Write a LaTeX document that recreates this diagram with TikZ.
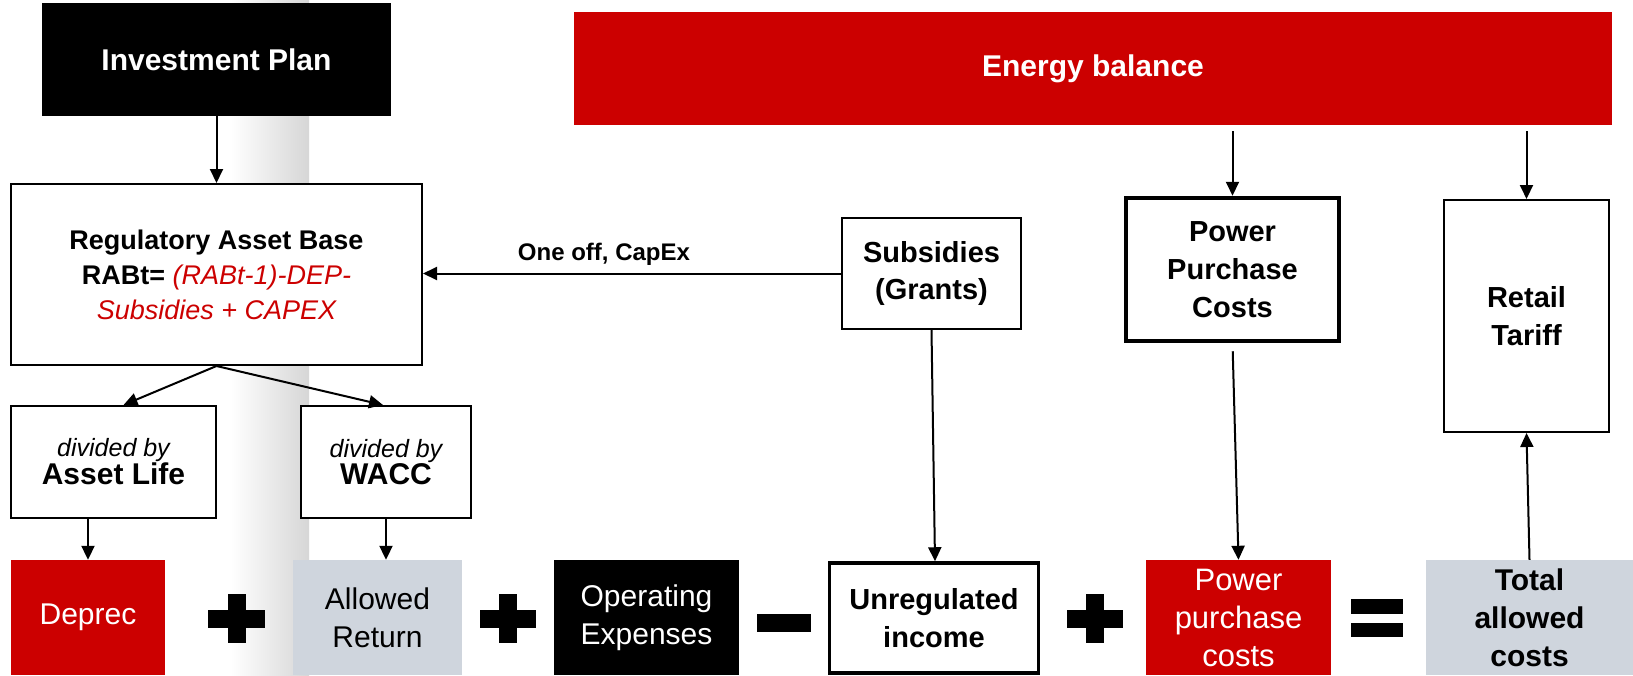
\documentclass[tikz,border=0pt]{standalone}
\usepackage{fontspec}
\setmainfont{Liberation Sans}
\usetikzlibrary{arrows.meta}
\definecolor{myred}{RGB}{204,0,0}
\definecolor{mygray}{RGB}{207,213,221}
\definecolor{bandgray}{RGB}{214,214,214}
\newcommand\myfs[2]{\fontsize{#1}{#2}\selectfont}
\begin{document}
\begin{tikzpicture}[x=1pt,y=-1pt,
  box/.style={draw=black, line width=2pt, fill=white, align=center, inner sep=0pt},
  blackbox/.style={fill=black, text=white, align=center, inner sep=0pt},
  redbox/.style={fill=myred, text=white, align=center, inner sep=0pt},
  graybox/.style={fill=mygray, text=black, align=center, inner sep=0pt},
  conn/.style={line width=2pt, -{Triangle[length=14pt,width=13pt]}},
  opbar/.style={fill=black, draw=none}]
\useasboundingbox (0,0) rectangle (1633,675);
\fill[white] (0,0) rectangle (1633,675);
% background band
\shade[left color=white, right color=bandgray] (231,0) rectangle (309,675);

% top row
\node[blackbox, minimum width=349pt, minimum height=113pt, font=\myfs{30}{37}\bfseries] (inv) at (216.5,59.5) {Investment Plan};
\node[redbox, minimum width=1038pt, minimum height=113pt, font=\myfs{30}{37}\bfseries] (eb) at (1093,68.5) {Energy balance};

% middle
\node[box, minimum width=411pt, minimum height=181pt, font=\myfs{27}{35}] (rab) at (216.5,274.5)
  {\textbf{Regulatory Asset Base}\\\textbf{RABt=} \textcolor{myred}{\itshape (RABt-1)-DEP-}\\\textcolor{myred}{\itshape Subsidies + CAPEX}};
\node[box, minimum width=179pt, minimum height=111pt, font=\myfs{29}{37}\bfseries] (sub) at (931.5,273.5) {Subsidies\\(Grants)};
\node[box, line width=4.5pt, minimum width=213pt, minimum height=143pt, font=\myfs{29}{38}\bfseries] (ppc) at (1232.5,269.5) {Power\\Purchase\\Costs};
\node[box, minimum width=165pt, minimum height=232pt, font=\myfs{29}{38}\bfseries] (rt) at (1526.5,316) {Retail\\Tariff};
\node[box, minimum width=205pt, minimum height=112pt] (al) at (113.5,462)
  {{\myfs{25}{36}\itshape divided by}\\{\myfs{30}{36}\bfseries Asset Life}};
\node[box, minimum width=170pt, minimum height=112pt] (wacc) at (386,462)
  {{\myfs{25}{36}\itshape divided by}\\{\myfs{30}{36}\bfseries WACC}};

% bottom row
\node[redbox, minimum width=154pt, minimum height=115pt, font=\myfs{30}{38}] (dep) at (88,617.5) {\raisebox{-4pt}{Deprec}};
\node[graybox, minimum width=169pt, minimum height=115pt, font=\myfs{30}{38}] (ar) at (377.5,617.5) {Allowed\\Return};
\node[blackbox, minimum width=185pt, minimum height=115pt, font=\myfs{30}{38}] (opx) at (646.5,617.5) {Operating\\Expenses};
\node[box, line width=3.5pt, minimum width=209pt, minimum height=110pt, font=\myfs{29}{38}\bfseries] (ui) at (934,618) {Unregulated\\income};
\node[redbox, minimum width=185pt, minimum height=115pt, font=\myfs{31}{38}] (ppr) at (1238.5,617.5) {Power\\purchase\\costs};
\node[graybox, minimum width=207pt, minimum height=115pt, font=\myfs{30}{38}\bfseries] (tac) at (1529.5,617.5) {Total\\allowed\\costs};

% operators
\fill[opbar] (208,610) rectangle (265,628);
\fill[opbar] (228,594) rectangle (246,643);
\fill[opbar] (480,610) rectangle (536,628);
\fill[opbar] (499,594) rectangle (517,643);
\fill[opbar] (1067,610) rectangle (1123,628);
\fill[opbar] (1086,594) rectangle (1104,643);
\fill[opbar] (757,614) rectangle (811,632);
\fill[opbar] (1351,599) rectangle (1403,614);
\fill[opbar] (1351,623) rectangle (1403,637);

% connectors
\draw[conn] (inv.south) -- (rab.north);
\draw[conn] (rab.south) -- ([xshift=10pt]al.north);
\draw[conn] (rab.south) -- ([xshift=-3pt]wacc.north);
\draw[conn] (dep.north |- al.south) -- (dep.north);
\draw[conn] (wacc.south) -- (wacc.south |- ar.north);
\draw[conn] (sub.west) -- node[pos=0.567, above=4pt, font=\myfs{24}{28}\bfseries] {One off, CapEx} (rab.east |- sub.west);
\draw[conn] (sub.south) -- ([xshift=1pt]ui.north);
\draw[conn, shorten <=6pt] (ppc.north |- eb.south) -- (ppc.north);
\draw[conn, shorten <=6pt] (rt.north |- eb.south) -- (rt.north);
\draw[conn, shorten <=8pt] (ppc.south) -- (ppr.north);
\draw[conn] (tac.north) -- (rt.south);
\end{tikzpicture}
\end{document}
